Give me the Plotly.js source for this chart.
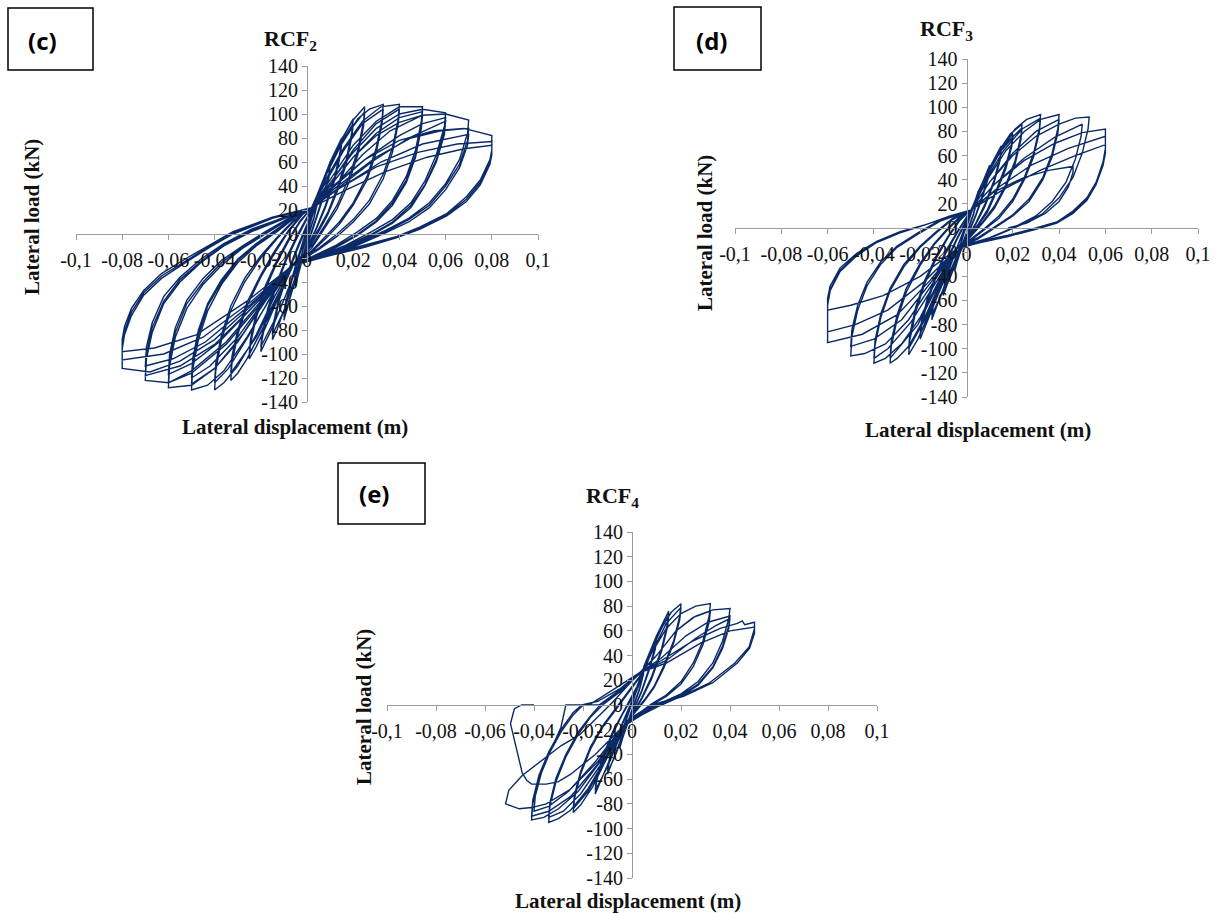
<!DOCTYPE html>
<html>
<head>
<meta charset="utf-8">
<script src="https://cdn.plot.ly/plotly-3.0.1.min.js"></script>
<style>html,body{margin:0;padding:0;background:#fff;}#chart{width:1218px;height:913px;}</style>
</head>
<body>
<div id="chart"></div>
<script>
// ---------- tick labels ----------
const xTickVals = [-0.1,-0.08,-0.06,-0.04,-0.02,0,0.02,0.04,0.06,0.08,0.1];
const xTickText = ['-0,1','-0,08','-0,06','-0,04','-0,02','0','0,02','0,04','0,06','0,08','0,1'];
const yTickVals = [-140,-120,-100,-80,-60,-40,-20,0,20,40,60,80,100,120,140];
const yTickText = ['-140','-120','-100','-80','-60','-40','-20','0','20','40','60','80','100','120','140'];

// ---------- panel titles ----------
const panelTitles = ['<b>RCF<sub>2</sub></b>','<b>RCF<sub>3</sub></b>','<b>RCF<sub>4</sub></b>'];
const panelTags = ['<b>(c)</b>','<b>(d)</b>','<b>(e)</b>'];
const xTitle = '<b>Lateral displacement (m)</b>';
const yTitle = '<b>Lateral load (kN)</b>';

// ---------- RCF2 : [displacement (m), load (kN)] per amplitude level ----------
const rcf2_L005 = [[0,0],[0.002,14],[0.004,28],[0.005,35],[0.0047,28],[0.003,14],[0.001,2],[-0.001,-12],[-0.003,-28],[-0.005,-44],[-0.0047,-36],[-0.003,-22],[-0.001,-8],[0.001,6],[0.003,20],[0.005,34],[0.0047,27],[0.003,13],[0.001,1],[-0.001,-13],[-0.003,-29],[-0.005,-43],[-0.0047,-35],[-0.003,-21],[-0.001,-7],[0.001,7]];
const rcf2_L010 = [[0.004,28],[0.007,45],[0.01,60],[0.0095,50],[0.007,32],[0.004,14],[0.001,-3],[-0.002,-20],[-0.005,-38],[-0.008,-58],[-0.01,-72],[-0.0095,-62],[-0.007,-42],[-0.004,-22],[-0.001,-4],[0.002,14],[0.005,32],[0.008,48],[0.01,57],[0.0095,47],[0.007,30],[0.004,12],[0.001,-5],[-0.003,-27],[-0.007,-52],[-0.01,-69],[-0.0095,-59],[-0.007,-40],[-0.004,-20],[-0.001,-2],[0.002,15]];
const rcf2_L015 = [[0.005,35],[0.01,60],[0.015,80],[0.0145,70],[0.012,48],[0.008,24],[0.004,5],[0,-12],[-0.004,-30],[-0.009,-58],[-0.013,-80],[-0.015,-88],[-0.0145,-78],[-0.012,-55],[-0.008,-32],[-0.004,-12],[0,6],[0.002,18],[0.006,38],[0.011,62],[0.015,76],[0.0145,66],[0.012,45],[0.008,22],[0.004,4],[0,-13],[-0.005,-36],[-0.01,-64],[-0.015,-84],[-0.0145,-74],[-0.012,-52],[-0.008,-30],[-0.004,-10],[0,8],[0.002,19]];
const rcf2_L020 = [[0.007,45],[0.013,72],[0.017,86],[0.02,96],[0.0195,86],[0.017,62],[0.013,38],[0.009,18],[0.005,4],[0,-12],[-0.005,-30],[-0.01,-55],[-0.015,-78],[-0.02,-98],[-0.0195,-88],[-0.017,-66],[-0.013,-42],[-0.009,-22],[-0.004,-2],[0,12],[0.002,20],[0.008,48],[0.014,74],[0.02,92],[0.0195,82],[0.017,58],[0.013,35],[0.009,16],[0.005,2],[0,-14],[-0.006,-36],[-0.012,-64],[-0.02,-94],[-0.0195,-84],[-0.017,-62],[-0.013,-40],[-0.009,-20],[-0.004,0],[0.002,21]];
const rcf2_L025 = [[0.008,50],[0.014,76],[0.02,95],[0.025,106],[0.0245,94],[0.022,70],[0.018,46],[0.013,24],[0.008,8],[0.002,-10],[-0.006,-25],[-0.012,-52],[-0.018,-78],[-0.022,-94],[-0.025,-104],[-0.0245,-92],[-0.022,-70],[-0.018,-46],[-0.013,-24],[-0.008,-6],[-0.003,10],[0.002,22],[0.009,52],[0.016,80],[0.025,102],[0.0245,90],[0.022,66],[0.018,42],[0.013,21],[0.008,6],[0.002,-12],[-0.006,-26],[-0.013,-56],[-0.025,-100],[-0.0245,-88],[-0.022,-66],[-0.018,-43],[-0.013,-22],[-0.008,-4],[-0.003,11],[0.002,22]];
const rcf2_L033 = [[0.008,48],[0.015,75],[0.022,96],[0.027,104],[0.033,108],[0.0325,96],[0.03,72],[0.026,48],[0.02,26],[0.014,10],[0.008,-2],[0.002,-14],[-0.006,-25],[-0.012,-50],[-0.02,-82],[-0.026,-104],[-0.03,-116],[-0.033,-122],[-0.0325,-108],[-0.03,-84],[-0.026,-60],[-0.02,-36],[-0.014,-16],[-0.008,2],[-0.002,16],[0.002,22],[0.009,46],[0.016,70],[0.024,92],[0.033,104],[0.0325,92],[0.03,68],[0.026,45],[0.02,24],[0.014,8],[0.008,-4],[0.002,-15],[-0.006,-26],[-0.013,-52],[-0.022,-86],[-0.033,-116],[-0.0325,-102],[-0.03,-80],[-0.026,-57],[-0.02,-34],[-0.014,-14],[-0.008,3],[-0.002,17],[0.002,22]];
const rcf2_L040 = [[0.008,45],[0.016,72],[0.024,94],[0.032,106],[0.04,108],[0.0395,96],[0.037,72],[0.033,50],[0.027,28],[0.02,12],[0.013,0],[0.005,-12],[-0.006,-25],[-0.014,-52],[-0.022,-84],[-0.03,-110],[-0.036,-124],[-0.04,-130],[-0.0395,-114],[-0.037,-88],[-0.033,-64],[-0.027,-40],[-0.02,-20],[-0.013,-4],[-0.006,10],[0.002,22],[0.01,42],[0.02,70],[0.03,92],[0.04,104],[0.0395,92],[0.037,68],[0.033,46],[0.027,25],[0.02,10],[0.013,-2],[0.005,-13],[-0.006,-26],[-0.015,-50],[-0.025,-84],[-0.034,-112],[-0.04,-124],[-0.0395,-108],[-0.037,-84],[-0.033,-60],[-0.027,-37],[-0.02,-18],[-0.013,-3],[-0.006,11],[0.002,22]];
const rcf2_L050 = [[0.01,45],[0.02,74],[0.03,94],[0.04,106],[0.05,106],[0.0495,94],[0.047,70],[0.043,48],[0.037,28],[0.03,13],[0.022,2],[0.012,-10],[0.002,-19],[-0.006,-25],[-0.016,-54],[-0.026,-86],[-0.036,-114],[-0.043,-126],[-0.05,-130],[-0.0495,-113],[-0.047,-88],[-0.043,-64],[-0.037,-42],[-0.03,-24],[-0.022,-10],[-0.013,2],[-0.005,14],[0.002,22],[0.01,40],[0.02,64],[0.03,84],[0.04,97],[0.05,102],[0.0495,90],[0.047,66],[0.043,45],[0.037,26],[0.03,11],[0.022,0],[0.012,-11],[0.002,-20],[-0.006,-26],[-0.017,-52],[-0.028,-84],[-0.04,-112],[-0.05,-125],[-0.0495,-108],[-0.047,-84],[-0.043,-60],[-0.037,-40],[-0.03,-22],[-0.022,-9],[-0.013,3],[-0.005,14],[0.002,22],[0.012,40],[0.024,66],[0.036,86],[0.05,99],[0.0495,88],[0.047,64],[0.043,43],[0.037,24],[0.03,10],[0.022,-1],[0.012,-12],[0.002,-21],[-0.006,-26],[-0.018,-54],[-0.03,-86],[-0.042,-110],[-0.05,-120],[-0.0495,-104],[-0.047,-80],[-0.043,-58],[-0.037,-38],[-0.03,-21],[-0.022,-8],[-0.013,4],[-0.005,15],[0.002,22]];
const rcf2_L060 = [[0.01,42],[0.02,68],[0.03,88],[0.04,100],[0.05,104],[0.06,101],[0.0595,90],[0.056,66],[0.051,44],[0.045,26],[0.037,12],[0.028,2],[0.016,-10],[0.004,-20],[-0.006,-25],[-0.018,-56],[-0.03,-90],[-0.04,-112],[-0.05,-126],[-0.06,-128],[-0.0595,-110],[-0.057,-86],[-0.052,-62],[-0.045,-42],[-0.037,-26],[-0.028,-12],[-0.018,0],[-0.008,12],[0.002,22],[0.01,38],[0.025,62],[0.04,82],[0.05,92],[0.06,97],[0.0595,86],[0.056,62],[0.051,41],[0.045,24],[0.037,10],[0.028,0],[0.016,-11],[0.004,-21],[-0.006,-26],[-0.02,-56],[-0.035,-90],[-0.05,-114],[-0.06,-124],[-0.0595,-106],[-0.057,-82],[-0.052,-58],[-0.045,-40],[-0.037,-24],[-0.028,-11],[-0.018,1],[-0.008,13],[0.002,22],[0.012,36],[0.028,60],[0.044,80],[0.06,94],[0.0595,83],[0.056,60],[0.051,40],[0.045,22],[0.037,9],[0.028,-1],[0.016,-12],[0.004,-21],[-0.006,-26],[-0.022,-58],[-0.038,-90],[-0.05,-108],[-0.06,-117],[-0.0595,-100],[-0.057,-78],[-0.052,-55],[-0.045,-37],[-0.037,-22],[-0.028,-10],[-0.018,2],[-0.008,13],[0.002,22]];
const rcf2_L070 = [[0.01,40],[0.02,64],[0.03,82],[0.04,93],[0.05,99],[0.06,100],[0.07,95],[0.0695,84],[0.066,62],[0.06,42],[0.053,26],[0.044,13],[0.034,3],[0.02,-9],[0.006,-19],[-0.006,-25],[-0.02,-58],[-0.035,-92],[-0.05,-116],[-0.06,-124],[-0.07,-122],[-0.0695,-104],[-0.067,-82],[-0.062,-58],[-0.055,-40],[-0.046,-24],[-0.036,-10],[-0.024,2],[-0.01,13],[0.002,22],[0.012,38],[0.03,64],[0.045,80],[0.058,86],[0.07,88],[0.0695,78],[0.066,58],[0.06,40],[0.053,24],[0.044,12],[0.034,2],[0.02,-10],[0.006,-20],[-0.006,-26],[-0.022,-58],[-0.04,-92],[-0.055,-110],[-0.07,-118],[-0.0695,-100],[-0.067,-78],[-0.062,-56],[-0.055,-38],[-0.046,-23],[-0.036,-9],[-0.024,3],[-0.01,14],[0.002,22],[0.014,38],[0.032,60],[0.05,75],[0.07,83],[0.0695,74],[0.066,55],[0.06,37],[0.053,22],[0.044,10],[0.034,1],[0.02,-11],[0.006,-20],[-0.006,-26],[-0.024,-58],[-0.044,-90],[-0.058,-104],[-0.07,-110],[-0.0695,-94],[-0.067,-74],[-0.062,-52],[-0.055,-36],[-0.046,-21],[-0.036,-8],[-0.024,4],[-0.01,14],[0.002,22]];
const rcf2_L080 = [[0.012,40],[0.025,62],[0.04,78],[0.055,86],[0.068,88],[0.08,82],[0.08,70],[0.0792,62],[0.075,45],[0.069,31],[0.0605,17],[0.049,6],[0.039,-2],[0.025,-9],[0.01,-17],[-0.006,-25],[-0.022,-56],[-0.04,-88],[-0.055,-106],[-0.068,-115],[-0.08,-112],[-0.08,-96],[-0.079,-84],[-0.076,-68],[-0.0707,-51],[-0.063,-37],[-0.052,-23],[-0.042,-11],[-0.032,0],[-0.015,13],[0.002,22],[0.014,38],[0.03,56],[0.048,68],[0.065,75],[0.08,77],[0.08,68],[0.0792,60],[0.075,43],[0.069,29],[0.0605,16],[0.049,5],[0.039,-3],[0.025,-10],[0.01,-18],[-0.006,-26],[-0.024,-56],[-0.045,-86],[-0.062,-100],[-0.08,-105],[-0.08,-92],[-0.079,-81],[-0.076,-65],[-0.0707,-49],[-0.063,-35],[-0.052,-22],[-0.042,-10],[-0.032,1],[-0.015,14],[0.002,22],[0.016,36],[0.034,52],[0.052,64],[0.068,71],[0.08,74],[0.08,66],[0.0792,58],[0.075,41],[0.069,27],[0.0605,15],[0.049,4],[0.039,-3],[0.025,-11],[0.01,-18],[-0.006,-26],[-0.026,-56],[-0.048,-84],[-0.066,-95],[-0.08,-98],[-0.08,-88],[-0.079,-77],[-0.076,-62],[-0.0707,-47],[-0.063,-33],[-0.052,-20],[-0.042,-9],[-0.032,2],[-0.015,14],[0.002,22]];

// ---------- RCF3 ----------
const rcf3_L005 = [[0,0],[0.002,12],[0.005,30],[0.0047,24],[0.003,12],[0.001,1],[-0.001,-9],[-0.003,-21],[-0.005,-35],[-0.0047,-28],[-0.003,-16],[-0.001,-4],[0.001,7],[0.003,18],[0.005,29],[0.0047,23],[0.003,11],[0.001,0],[-0.001,-10],[-0.003,-22],[-0.005,-34],[-0.0047,-27],[-0.003,-15],[-0.001,-3],[0.001,8]];
const rcf3_L010 = [[0.004,24],[0.007,38],[0.01,52],[0.0095,44],[0.007,28],[0.004,11],[0.001,-3],[-0.002,-16],[-0.005,-30],[-0.008,-45],[-0.01,-56],[-0.0095,-48],[-0.007,-32],[-0.004,-16],[-0.001,-2],[0.002,12],[0.005,27],[0.008,41],[0.01,50],[0.0095,42],[0.007,26],[0.004,10],[0.001,-4],[-0.003,-21],[-0.007,-41],[-0.01,-54],[-0.0095,-46],[-0.007,-30],[-0.004,-15],[-0.001,-1],[0.002,13]];
const rcf3_L015 = [[0.005,30],[0.01,50],[0.015,68],[0.0145,59],[0.012,40],[0.008,20],[0.004,4],[0,-9],[-0.004,-22],[-0.009,-45],[-0.013,-66],[-0.015,-76],[-0.0145,-66],[-0.012,-46],[-0.008,-26],[-0.004,-9],[0,5],[0.002,13],[0.006,33],[0.011,53],[0.015,65],[0.0145,56],[0.012,38],[0.008,18],[0.004,3],[0,-10],[-0.005,-28],[-0.01,-52],[-0.015,-72],[-0.0145,-62],[-0.012,-44],[-0.008,-24],[-0.004,-8],[0,6],[0.002,14]];
const rcf3_L020 = [[0.007,38],[0.013,60],[0.017,71],[0.02,78],[0.0195,70],[0.017,52],[0.013,32],[0.009,15],[0.005,3],[0,-9],[-0.004,-16],[-0.01,-44],[-0.015,-68],[-0.02,-92],[-0.0195,-82],[-0.017,-62],[-0.013,-40],[-0.009,-21],[-0.004,-4],[0,9],[0.002,15],[0.008,40],[0.014,62],[0.02,75],[0.0195,67],[0.017,49],[0.013,30],[0.009,13],[0.005,2],[0,-10],[-0.005,-22],[-0.012,-54],[-0.02,-88],[-0.0195,-78],[-0.017,-59],[-0.013,-38],[-0.009,-19],[-0.004,-3],[0.002,15]];
const rcf3_L024 = [[0.008,42],[0.014,64],[0.019,78],[0.024,86],[0.0235,76],[0.021,56],[0.017,36],[0.012,18],[0.007,5],[0.001,-8],[-0.004,-16],[-0.01,-42],[-0.016,-70],[-0.021,-92],[-0.025,-105],[-0.0245,-93],[-0.022,-70],[-0.018,-46],[-0.013,-25],[-0.008,-8],[-0.003,6],[0.002,15],[0.009,44],[0.016,68],[0.024,83],[0.0235,73],[0.021,53],[0.017,34],[0.012,16],[0.007,4],[0.001,-9],[-0.004,-17],[-0.011,-46],[-0.018,-76],[-0.025,-100],[-0.0245,-88],[-0.022,-66],[-0.018,-43],[-0.013,-23],[-0.008,-7],[-0.003,7],[0.002,15]];
const rcf3_L032 = [[0.008,42],[0.015,66],[0.021,82],[0.026,90],[0.032,94],[0.0315,83],[0.029,62],[0.025,42],[0.02,24],[0.014,10],[0.008,0],[0.002,-9],[-0.004,-16],[-0.011,-44],[-0.018,-74],[-0.025,-98],[-0.03,-108],[-0.033,-112],[-0.0325,-98],[-0.03,-76],[-0.026,-53],[-0.02,-31],[-0.014,-14],[-0.008,-1],[-0.002,10],[0.002,15],[0.009,42],[0.016,64],[0.024,82],[0.032,91],[0.0315,80],[0.029,59],[0.025,40],[0.02,22],[0.014,8],[0.008,-1],[0.002,-10],[-0.004,-17],[-0.012,-46],[-0.021,-80],[-0.033,-108],[-0.0325,-94],[-0.03,-72],[-0.026,-50],[-0.02,-29],[-0.014,-13],[-0.008,0],[-0.002,11],[0.002,15]];
const rcf3_L040 = [[0.009,40],[0.017,64],[0.025,80],[0.032,90],[0.04,94],[0.0395,83],[0.037,62],[0.033,42],[0.027,24],[0.02,11],[0.013,2],[0.005,-8],[-0.004,-16],[-0.012,-44],[-0.02,-74],[-0.028,-96],[-0.035,-108],[-0.04,-112],[-0.0395,-97],[-0.037,-74],[-0.033,-52],[-0.027,-32],[-0.02,-16],[-0.013,-4],[-0.006,7],[0.002,15],[0.01,38],[0.02,62],[0.03,80],[0.04,90],[0.0395,79],[0.037,59],[0.033,40],[0.027,22],[0.02,10],[0.013,1],[0.005,-9],[-0.004,-17],[-0.013,-44],[-0.024,-78],[-0.034,-100],[-0.04,-108],[-0.0395,-93],[-0.037,-71],[-0.033,-50],[-0.027,-30],[-0.02,-15],[-0.013,-3],[-0.006,8],[0.002,15]];
const rcf3_L050 = [[0.01,38],[0.02,60],[0.03,76],[0.04,86],[0.047,91],[0.053,92],[0.0525,82],[0.05,62],[0.046,42],[0.04,25],[0.033,12],[0.024,3],[0.012,-7],[-0.004,-16],[-0.014,-44],[-0.025,-76],[-0.035,-96],[-0.044,-104],[-0.05,-106],[-0.0495,-90],[-0.047,-68],[-0.043,-48],[-0.037,-30],[-0.03,-16],[-0.021,-5],[-0.011,6],[0.002,15],[0.012,36],[0.025,58],[0.038,75],[0.05,86],[0.0495,76],[0.047,57],[0.043,38],[0.037,22],[0.03,10],[0.021,1],[0.01,-8],[-0.004,-17],[-0.016,-46],[-0.028,-76],[-0.04,-92],[-0.05,-98],[-0.0495,-84],[-0.047,-64],[-0.043,-45],[-0.037,-28],[-0.03,-15],[-0.021,-4],[-0.011,7],[0.002,15]];
const rcf3_L060 = [[0.012,36],[0.025,56],[0.038,70],[0.05,79],[0.06,82],[0.06,66],[0.059,55],[0.056,38],[0.052,25],[0.046,14],[0.039,5],[0.03,0],[0.018,-6],[0.006,-11],[-0.004,-16],[-0.016,-44],[-0.03,-72],[-0.045,-88],[-0.06,-95],[-0.06,-64],[-0.0589,-52],[-0.0546,-36],[-0.0474,-23],[-0.0388,-12],[-0.0287,-4],[-0.0172,3],[-0.0071,9],[0.002,15],[0.014,34],[0.028,52],[0.044,66],[0.06,76],[0.06,64],[0.059,53],[0.056,37],[0.052,24],[0.046,13],[0.039,5],[0.03,-1],[0.018,-6],[0.006,-12],[-0.004,-17],[-0.018,-44],[-0.034,-68],[-0.048,-80],[-0.06,-86],[-0.06,-62],[-0.0589,-51],[-0.0546,-35],[-0.0474,-22],[-0.0388,-12],[-0.0287,-4],[-0.0172,3],[-0.0071,10],[0.002,15],[0.016,32],[0.032,48],[0.047,60],[0.06,69],[0.06,62],[0.059,52],[0.056,36],[0.052,23],[0.046,12],[0.039,4],[0.03,-1],[0.018,-7],[0.006,-12],[-0.004,-17],[-0.02,-40],[-0.036,-56],[-0.05,-64],[-0.06,-68],[-0.06,-58],[-0.0589,-48],[-0.0546,-33],[-0.0474,-21],[-0.0388,-11],[-0.0287,-3],[-0.0172,3],[-0.0071,10],[0.002,15]];
const rcf3_Last = [[0.012,30],[0.025,42],[0.036,48],[0.046,51],[0.046,46],[0.044,34],[0.04,22],[0.034,12],[0.026,4],[0.018,0]];

// ---------- RCF4 ----------
const rcf4_L005 = [[0,0],[0.002,13],[0.005,32],[0.0047,26],[0.003,13],[0.001,2],[-0.001,-9],[-0.003,-21],[-0.005,-35],[-0.0047,-28],[-0.003,-16],[-0.001,-4],[0.001,8],[0.003,19],[0.005,31],[0.0047,25],[0.003,12],[0.001,1],[-0.001,-10],[-0.003,-22],[-0.005,-34],[-0.0047,-27],[-0.003,-15],[-0.001,-3],[0.001,9]];
const rcf4_L010 = [[0.004,26],[0.007,41],[0.01,55],[0.0095,47],[0.007,30],[0.004,12],[0.001,-2],[-0.002,-15],[-0.005,-30],[-0.008,-46],[-0.01,-56],[-0.0095,-48],[-0.007,-32],[-0.004,-16],[-0.001,-2],[0.002,12],[0.005,28],[0.008,43],[0.01,53],[0.0095,45],[0.007,28],[0.004,11],[0.001,-3],[-0.003,-21],[-0.007,-42],[-0.01,-54],[-0.0095,-46],[-0.007,-30],[-0.004,-15],[-0.001,-1],[0.002,13]];
const rcf4_L015 = [[0.005,32],[0.01,56],[0.015,76],[0.0145,66],[0.012,45],[0.008,23],[0.004,6],[0,-8],[-0.004,-20],[-0.009,-44],[-0.013,-63],[-0.015,-72],[-0.0145,-62],[-0.012,-44],[-0.008,-24],[-0.004,-8],[0,6],[0.002,14],[0.006,35],[0.011,58],[0.015,73],[0.0145,63],[0.012,43],[0.008,21],[0.004,5],[0,-9],[-0.005,-26],[-0.01,-50],[-0.015,-69],[-0.0145,-59],[-0.012,-42],[-0.008,-22],[-0.004,-7],[0,7],[0.002,15]];
const rcf4_L020 = [[0.007,40],[0.012,62],[0.016,75],[0.02,82],[0.0195,72],[0.017,52],[0.013,32],[0.009,15],[0.005,4],[0,-8],[-0.004,-18],[-0.01,-42],[-0.016,-66],[-0.021,-81],[-0.024,-87],[-0.0235,-76],[-0.021,-56],[-0.017,-36],[-0.012,-18],[-0.007,-5],[-0.002,8],[0.003,22],[0.008,42],[0.014,66],[0.02,79],[0.0195,69],[0.017,50],[0.013,30],[0.009,14],[0.005,3],[0,-9],[-0.004,-18],[-0.011,-46],[-0.018,-70],[-0.024,-84],[-0.0235,-73],[-0.021,-54],[-0.017,-34],[-0.012,-17],[-0.007,-4],[-0.002,9],[0.003,23]];
const rcf4_L032 = [[0.008,42],[0.014,62],[0.02,74],[0.026,80],[0.032,82],[0.0315,72],[0.029,52],[0.025,34],[0.02,19],[0.014,8],[0.008,1],[0.002,-8],[-0.004,-18],[-0.011,-44],[-0.018,-68],[-0.025,-85],[-0.03,-92],[-0.034,-95],[-0.0335,-82],[-0.031,-62],[-0.027,-42],[-0.022,-24],[-0.017,-10],[-0.012,0],[-0.004,12],[0.003,25],[0.01,40],[0.018,60],[0.025,71],[0.032,76],[0.0315,67],[0.029,49],[0.025,31],[0.02,17],[0.014,7],[0.008,0],[0.002,-9],[-0.004,-19],[-0.012,-46],[-0.021,-72],[-0.028,-86],[-0.034,-91],[-0.0335,-79],[-0.031,-59],[-0.027,-40],[-0.022,-22],[-0.017,-9],[-0.013,0],[-0.004,13],[0.003,26]];
const rcf4_L040 = [[0.01,40],[0.018,60],[0.026,72],[0.033,77],[0.04,78],[0.0395,70],[0.037,52],[0.033,34],[0.027,19],[0.02,9],[0.012,2],[0.004,-6],[-0.004,-18],[-0.013,-46],[-0.022,-70],[-0.03,-84],[-0.036,-91],[-0.041,-93],[-0.0405,-80],[-0.038,-60],[-0.034,-40],[-0.029,-22],[-0.024,-8],[-0.02,0],[-0.0135,0],[-0.005,12],[0.003,26],[0.012,38],[0.022,56],[0.031,67],[0.04,72],[0.0395,64],[0.037,48],[0.033,31],[0.027,17],[0.02,8],[0.012,1],[0.004,-7],[-0.004,-18],[-0.014,-48],[-0.025,-74],[-0.034,-86],[-0.041,-90],[-0.0405,-77],[-0.038,-57],[-0.034,-38],[-0.029,-20],[-0.024,-6],[-0.0204,0],[-0.014,3],[-0.005,13],[0.003,26],[0.014,36],[0.026,54],[0.034,64],[0.04,70],[0.0395,62],[0.037,46],[0.033,30],[0.027,16],[0.02,7],[0.012,0],[0.004,-8],[-0.004,-18],[-0.015,-46],[-0.026,-70],[-0.034,-82],[-0.04,-86],[-0.0395,-74],[-0.037,-55],[-0.033,-36],[-0.029,-18],[-0.027,0],[-0.0176,0],[-0.008,12],[0.003,26]];
const rcf4_L050 = [[0.012,36],[0.025,52],[0.036,62],[0.043,66],[0.045,68],[0.046,65],[0.05,67],[0.05,62],[0.0478,47],[0.042,34],[0.0317,18],[0.02,7],[0.008,0],[0,-10],[-0.004,-18],[-0.014,-46],[-0.025,-68],[-0.035,-80],[-0.041,-83],[-0.046,-84],[-0.0516,-80],[-0.0503,-69],[-0.0448,-57],[-0.037,-45],[-0.029,-33],[-0.0213,-24],[-0.015,-12],[-0.008,2],[0.003,26],[0.014,34],[0.028,50],[0.04,60],[0.05,63],[0.05,58],[0.048,46],[0.043,34],[0.033,18],[0.021,7],[0.009,0],[0,-10],[-0.004,-18],[-0.015,-40],[-0.025,-56],[-0.03,-62],[-0.035,-64],[-0.041,-64],[-0.043,-61],[-0.0448,-55],[-0.0496,-15],[-0.048,-3],[-0.045,0],[-0.04,0]];

// ---------- build ----------
const W = 1218, H = 913;
const px = v => v / W;
const py = v => 1 - v / H;
const navy = '#0a2a68';
const axisGray = '#9c9c9c';
const SERIF = 'Liberation Serif';

function series(levels, xa, ya) {
  const pts = [].concat(...levels);
  return {
    type: 'scatter', mode: 'lines',
    x: pts.map(p => p[0]), y: pts.map(p => p[1]),
    xaxis: xa, yaxis: ya,
    line: {color: navy, width: 1.4},
    hoverinfo: 'skip', showlegend: false
  };
}

const data = [
  series([rcf2_L005, rcf2_L010, rcf2_L015, rcf2_L020, rcf2_L025, rcf2_L033, rcf2_L040, rcf2_L050, rcf2_L060, rcf2_L070, rcf2_L080], 'x', 'y'),
  series([rcf3_L005, rcf3_L010, rcf3_L015, rcf3_L020, rcf3_L024, rcf3_L032, rcf3_L040, rcf3_L050, rcf3_L060, rcf3_Last], 'x2', 'y2'),
  series([rcf4_L005, rcf4_L010, rcf4_L015, rcf4_L020, rcf4_L032, rcf4_L040, rcf4_L050], 'x3', 'y3')
];

function xAx(l, r, zeroY) {
  return {domain: [px(l), px(r)], range: [-0.1, 0.1], anchor: 'free', position: py(zeroY),
    tickmode: 'array', tickvals: xTickVals, ticktext: xTickText, tickangle: 0,
    showline: true, linecolor: axisGray, linewidth: 1, ticks: 'outside', ticklen: 5, tickcolor: axisGray, tickwidth: 1,
    ticklabelstandoff: 3,
    showgrid: false, zeroline: false, tickfont: {family: SERIF, size: 20, color: '#111'}, fixedrange: true};
}
function yAx(t, b, zeroX) {
  return {domain: [py(b), py(t)], range: [-140, 140], anchor: 'free', position: px(zeroX),
    tickmode: 'array', tickvals: yTickVals, ticktext: yTickText,
    showline: true, linecolor: axisGray, linewidth: 1, ticks: 'outside', ticklen: 5, tickcolor: axisGray, tickwidth: 1,
    showgrid: false, zeroline: false, tickfont: {family: SERIF, size: 20, color: '#111'}, fixedrange: true};
}

const panels = [
  {l: 76, r: 538, t: 66, b: 402, zx: 307, zy: 234, title: [290, 40], tag: [42, 40], box: [8, 93, 8, 70], yt: [32, 217], xt: [295, 427]},
  {l: 735, r: 1198, t: 59, b: 397, zx: 966.5, zy: 228, title: [946, 30], tag: [711, 40], box: [674, 761, 7, 70], yt: [705, 233], xt: [978, 430]},
  {l: 387, r: 877, t: 532, b: 878, zx: 632, zy: 705, title: [612, 497], tag: [374, 493], box: [338, 425, 463, 524], yt: [364, 707], xt: [628, 901]}
];

const layout = {
  width: W, height: H, margin: {l: 0, r: 0, t: 0, b: 0},
  font: {family: SERIF, color: '#111'},
  paper_bgcolor: '#fff', plot_bgcolor: 'rgba(0,0,0,0)',
  showlegend: false, hovermode: false,
  xaxis: xAx(panels[0].l, panels[0].r, panels[0].zy),
  yaxis: yAx(panels[0].t, panels[0].b, panels[0].zx),
  xaxis2: xAx(panels[1].l, panels[1].r, panels[1].zy),
  yaxis2: yAx(panels[1].t, panels[1].b, panels[1].zx),
  xaxis3: xAx(panels[2].l, panels[2].r, panels[2].zy),
  yaxis3: yAx(panels[2].t, panels[2].b, panels[2].zx),
  shapes: [], annotations: []
};

panels.forEach((p, i) => {
  layout.shapes.push({type: 'rect', xref: 'paper', yref: 'paper',
    x0: px(p.box[0]), x1: px(p.box[1]), y0: py(p.box[3]), y1: py(p.box[2]),
    line: {color: '#000', width: 1.5}, fillcolor: 'rgba(0,0,0,0)'});
  layout.annotations.push({text: panelTags[i], xref: 'paper', yref: 'paper', x: px(p.tag[0]), y: py(p.tag[1]),
    xanchor: 'center', yanchor: 'middle', showarrow: false, font: {family: 'Open Sans', size: 24, color: '#000'}});
  layout.annotations.push({text: panelTitles[i], xref: 'paper', yref: 'paper', x: px(p.title[0]), y: py(p.title[1]),
    xanchor: 'center', yanchor: 'middle', showarrow: false, font: {family: SERIF, size: 22, color: '#111'}});
  layout.annotations.push({text: yTitle, xref: 'paper', yref: 'paper', x: px(p.yt[0]), y: py(p.yt[1]), textangle: -90,
    xanchor: 'center', yanchor: 'middle', showarrow: false, font: {family: SERIF, size: 21, color: '#111'}});
  layout.annotations.push({text: xTitle, xref: 'paper', yref: 'paper', x: px(p.xt[0]), y: py(p.xt[1]),
    xanchor: 'center', yanchor: 'middle', showarrow: false, font: {family: SERIF, size: 21, color: '#111'}});
});

Plotly.newPlot('chart', data, layout, {displayModeBar: false, staticPlot: true});
</script>
</body>
</html>
